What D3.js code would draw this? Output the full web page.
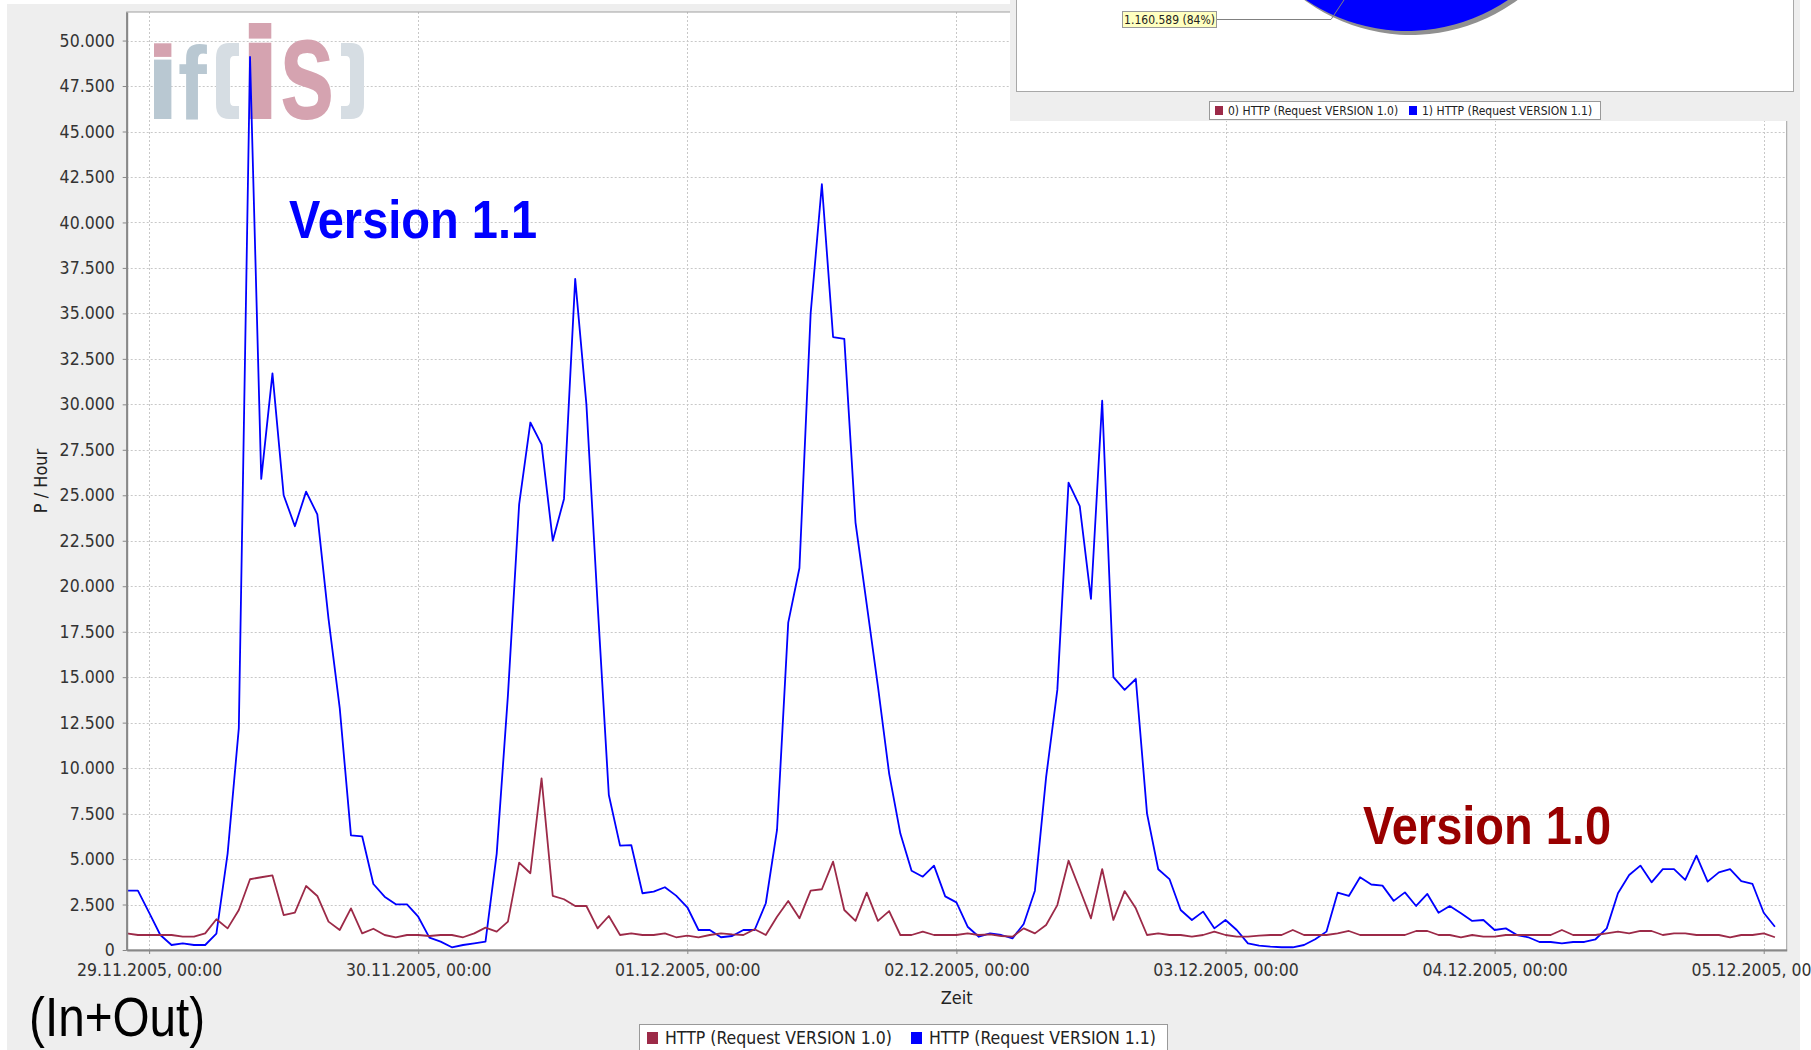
<!DOCTYPE html>
<html>
<head>
<meta charset="utf-8">
<script src="https://cdn.jsdelivr.net/npm/d3@7"></script>
<style>
  html, body { margin: 0; padding: 0; background: #ffffff; }
  svg text { font-family: "DejaVu Sans Condensed", "DejaVu Sans", sans-serif; }
</style>
</head>
<body>
<div id="chart"></div>
<script>
// Code
var svgWidth = 1811;
var svgHeight = 1050;

// hourly samples, first one at 28.11.2005 22:00
var seriesStart = Date.UTC(2005, 10, 28, 22, 0);

var httpV10 = [
  915, 825, 825, 825, 825, 730, 730, 915, 1690, 1190,
  2200, 3890, 4000, 4100, 1920, 2050, 3520, 2970, 1560, 1100,
  2290, 915, 1170, 825, 700, 825, 825, 770, 825, 825,
  700, 915, 1230, 1010, 1560, 4800, 4220, 9440, 2970, 2790,
  2420, 2420, 1190, 1870, 825, 915, 825, 825, 915, 700,
  790, 700, 825, 915, 860, 825, 1140, 825, 1830, 2690,
  1740, 3260, 3340, 4860, 2200, 1600, 3150, 1600, 2140, 825,
  825, 1010, 825, 825, 825, 915, 825, 860, 770, 730,
  1190, 915, 1375, 2470, 4910, 3340, 1740, 4450, 1650, 3240,
  2290, 825, 915, 825, 825, 730, 825, 1010, 825, 730,
  730, 790, 825, 825, 1100, 825, 825, 825, 915, 1045,
  825, 825, 825, 825, 825, 1045, 1045, 825, 825, 700,
  825, 730, 730, 825, 825, 825, 825, 825, 1100, 825,
  825, 825, 915, 1010, 915, 1045, 1045, 825, 915, 915,
  825, 825, 825, 700, 825, 825, 915, 700
];

var httpV11 = [
  3260, 3260, 2050, 825, 275, 365, 275, 275, 900, 5300,
  12200, 49100, 25900, 31700, 25000, 23300, 25200, 23950, 18200, 13300,
  6300, 6250, 3630, 2930, 2510, 2510, 1830, 680, 460, 150,
  275, 365, 460, 5300, 14000, 24500, 29000, 27800, 22500, 24800,
  36900, 30000, 19000, 8520, 5740, 5770, 3120, 3210, 3450, 2990,
  2350, 1100, 1100, 700, 770, 1100, 1100, 2570, 6600, 18000,
  21000, 35000, 42100, 33700, 33600, 23500, 19000, 14500, 9700, 6400,
  4360, 4030, 4640, 2950, 2620, 1280, 730, 915, 825, 640,
  1430, 3260, 9500, 14300, 25700, 24400, 19300, 30200, 15000, 14300,
  14900, 7500, 4440, 3900, 2200, 1650, 2110, 1190, 1650, 1100,
  365, 240, 180, 150, 150, 275, 590, 1010, 3150, 2970,
  4000, 3600, 3540, 2700, 3170, 2420, 3080, 2050, 2420, 2020,
  1600, 1650, 1100, 1190, 825, 700, 440, 440, 365, 440,
  440, 590, 1190, 3120, 4120, 4640, 3720, 4450, 4450, 3850,
  5190, 3760, 4270, 4450, 3790, 3630, 2050, 1280
];

var seriesNames = ["HTTP (Request VERSION 1.0)", "HTTP (Request VERSION 1.1)"];
var seriesColors = ["#9c2a48", "#0000ff"];
var dayTicks = ["2005-11-29", "2005-11-30", "2005-12-01", "2005-12-02",
                "2005-12-03", "2005-12-04", "2005-12-05"];
var yTickValues = [0, 2500, 5000, 7500, 10000, 12500, 15000, 17500, 20000, 22500,
                   25000, 27500, 30000, 32500, 35000, 37500, 40000, 42500, 45000,
                   47500, 50000];

// small pie chart pasted top right
var pieNames = ["0) HTTP (Request VERSION 1.0)", "1) HTTP (Request VERSION 1.1)"];
var pieValues = [221065, 1160589];
var pieLabel = "1.160.589 (84%)";

var plot = { left: 126.7, top: 12, right: 1786.7, bottom: 950 };

var svg = d3.select("#chart")
    .append("svg")
    .attr("width", svgWidth)
    .attr("height", svgHeight);

// panel background
svg.append("rect")
    .attr("x", 7).attr("y", 4)
    .attr("width", 1793).attr("height", svgHeight - 4)
    .attr("fill", "#eeeeee");

svg.append("rect")
    .attr("x", plot.left).attr("y", plot.top)
    .attr("width", plot.right - plot.left).attr("height", plot.bottom - plot.top)
    .attr("fill", "#ffffff");

var hour = 3600 * 1000;
var times = httpV10.map((d, i) => new Date(seriesStart + i * hour));

var xScale = d3.scaleUtc()
    .domain([new Date(seriesStart), new Date(seriesStart + 148.05 * hour)])
    .range([plot.left, plot.right]);

var yScale = d3.scaleLinear()
    .domain([0, 51570])
    .range([plot.bottom, plot.top]);

var de = d3.formatLocale({ decimal: ",", thousands: ".", grouping: [3], currency: ["", " €"] });
var yFormat = de.format(",d");
var dayFormat = d3.utcFormat("%d.%m.%Y, %H:%M");
var dayDates = dayTicks.map(d => new Date(d + "T00:00:00Z"));

// grid
var grid = svg.append("g").attr("stroke", "#c8c8c8").attr("stroke-dasharray", "2,2").attr("stroke-width", 1);
grid.selectAll(".hg")
    .data(yTickValues.filter(d => d > 0))
    .enter().append("line")
    .attr("x1", plot.left).attr("x2", plot.right)
    .attr("y1", d => Math.round(yScale(d)) + 0.5).attr("y2", d => Math.round(yScale(d)) + 0.5);
grid.selectAll(".vg")
    .data(dayDates)
    .enter().append("line")
    .attr("y1", plot.top).attr("y2", plot.bottom)
    .attr("x1", d => Math.round(xScale(d)) + 0.5).attr("x2", d => Math.round(xScale(d)) + 0.5);

// if(is) logo in the plot background
var pink = "#d5a3b0", slate = "#b9c8d2", pale = "#d6dde3";
var logo = svg.append("g");
logo.append("rect").attr("x", 154).attr("y", 43.3).attr("width", 17.4).attr("height", 13.6).attr("fill", pink);
logo.append("rect").attr("x", 154).attr("y", 59.6).attr("width", 17.4).attr("height", 59.4).attr("fill", slate);
logo.append("text")
    .attr("transform", "translate(178,119) scale(0.83,1)")
    .style("font-family", "'Liberation Sans', Arial, sans-serif")
    .style("font-weight", "bold").style("font-size", "104px")
    .attr("fill", slate).text("f");
logo.append("path")
    .attr("d", "M239,43 L229,43 Q216,43 216,58 L216,104 Q216,119 229,119 L239,119 L239,106 L234,106 Q230,106 230,101 L230,61 Q230,56 234,56 L239,56 Z")
    .attr("fill", pale);
logo.append("rect").attr("x", 248.8).attr("y", 23).attr("width", 22.5).attr("height", 15.6).attr("fill", pink);
logo.append("rect").attr("x", 248.8).attr("y", 42.7).attr("width", 22.5).attr("height", 76.3).attr("fill", pink);
logo.append("text")
    .attr("transform", "translate(279,119) scale(0.69,1)")
    .style("font-family", "'Liberation Sans', Arial, sans-serif")
    .style("font-weight", "bold").style("font-size", "146px")
    .attr("fill", pink).text("s");
logo.append("path")
    .attr("d", "M341,43 L351,43 Q364,43 364,58 L364,104 Q364,119 351,119 L341,119 L341,106 L346,106 Q350,106 350,101 L350,61 Q350,56 346,56 L341,56 Z")
    .attr("fill", pale);

// lines
svg.append("clipPath").attr("id", "plotClip")
    .append("rect")
    .attr("x", plot.left).attr("y", plot.top)
    .attr("width", plot.right - plot.left).attr("height", plot.bottom - plot.top);

var line = d3.line()
    .x((d, i) => xScale(times[i]))
    .y(d => yScale(d));

var lines = svg.append("g").attr("clip-path", "url(#plotClip)");
lines.append("path").datum(httpV11)
    .attr("d", line).attr("fill", "none")
    .attr("stroke", seriesColors[1]).attr("stroke-width", 1.8).attr("stroke-linejoin", "round");
lines.append("path").datum(httpV10)
    .attr("d", line).attr("fill", "none")
    .attr("stroke", seriesColors[0]).attr("stroke-width", 1.8).attr("stroke-linejoin", "round");

// plot outline + axes
svg.append("rect")
    .attr("x", plot.left).attr("y", plot.top)
    .attr("width", plot.right - plot.left).attr("height", plot.bottom - plot.top)
    .attr("fill", "none").attr("stroke", "#a0a0a0");

var leftAxis = d3.axisLeft(yScale).tickValues(yTickValues).tickFormat(yFormat)
    .tickSizeInner(4).tickSizeOuter(0).tickPadding(8);
var yAxis = svg.append("g").attr("transform", `translate(${plot.left},0)`).call(leftAxis);

var bottomAxis = d3.axisBottom(xScale).tickValues(dayDates).tickFormat(dayFormat)
    .tickSizeInner(4).tickSizeOuter(0).tickPadding(10);
var xAxis = svg.append("g").attr("transform", `translate(0,${plot.bottom})`).call(bottomAxis);

[xAxis, yAxis].forEach(function(ax) {
    ax.select(".domain").attr("stroke", "#888888").attr("stroke-width", 2);
    ax.selectAll(".tick line").attr("stroke", "#888888");
    ax.selectAll(".tick text")
        .style("font-family", "'DejaVu Sans Condensed', 'DejaVu Sans', sans-serif")
        .style("font-size", "17.5px").attr("fill", "#333333");
});

svg.append("text")
    .attr("x", (plot.left + plot.right) / 2).attr("y", 1004)
    .attr("text-anchor", "middle")
    .style("font-size", "18px").attr("fill", "#222222")
    .text("Zeit");

svg.append("text")
    .attr("transform", `translate(47,${(plot.top + plot.bottom) / 2}) rotate(-90)`)
    .attr("text-anchor", "middle")
    .style("font-size", "18px").attr("fill", "#222222")
    .text("P / Hour");

// bottom legend
var legend = svg.append("g");
legend.append("rect")
    .attr("x", 639.5).attr("y", 1024.5).attr("width", 528).attr("height", 30)
    .attr("fill", "#ffffff").attr("stroke", "#999999");
var legendX = [647, 911];
seriesNames.forEach(function(name, i) {
    legend.append("rect")
        .attr("x", legendX[i]).attr("y", 1032).attr("width", 11).attr("height", 12)
        .attr("fill", seriesColors[i]);
    legend.append("text")
        .attr("x", legendX[i] + 18).attr("y", 1044)
        .style("font-size", "17.5px").attr("fill", "#222222")
        .text(name);
});

// annotations
svg.append("text")
    .attr("transform", "translate(289,238) scale(0.87,1)")
    .style("font-family", "'Liberation Sans', Arial, sans-serif")
    .style("font-weight", "bold").style("font-size", "54px")
    .attr("fill", "#0000ff").text("Version 1.1");

svg.append("text")
    .attr("transform", "translate(1363,844) scale(0.87,1)")
    .style("font-family", "'Liberation Sans', Arial, sans-serif")
    .style("font-weight", "bold").style("font-size", "54px")
    .attr("fill", "#990000").text("Version 1.0");

svg.append("text")
    .attr("transform", "translate(29,1036) scale(0.867,1)")
    .style("font-family", "'Liberation Sans', Arial, sans-serif")
    .style("font-size", "55px")
    .attr("fill", "#000000").text("(In+Out)");

// pie chart inset (top right)
var inset = svg.append("g");
inset.append("rect")
    .attr("x", 1010).attr("y", 0).attr("width", 790).attr("height", 121)
    .attr("fill", "#eeeeee");
inset.append("rect")
    .attr("x", 1016.5).attr("y", -1).attr("width", 777).attr("height", 92.5)
    .attr("fill", "#ffffff").attr("stroke", "#a8a8a8");

svg.append("clipPath").attr("id", "pieClip")
    .append("rect").attr("x", 1017).attr("y", 0).attr("width", 776).attr("height", 91);

var pieG = inset.append("g").attr("clip-path", "url(#pieClip)");
var pieCenter = [1407, -149], pieRadius = 180;
var arcs = d3.pie().sort(null)(pieValues);
var arc = d3.arc().innerRadius(0).outerRadius(pieRadius);
pieG.append("g")
    .attr("transform", `translate(${pieCenter[0] + 4},${pieCenter[1] + 4})`)
    .selectAll("path").data(arcs).enter().append("path")
    .attr("d", arc).attr("fill", "#909090");
pieG.append("g")
    .attr("transform", `translate(${pieCenter[0]},${pieCenter[1]})`)
    .selectAll("path").data(arcs).enter().append("path")
    .attr("d", arc).attr("fill", (d, i) => seriesColors[i]);
pieG.append("polyline")
    .attr("points", "1217,19.5 1331,19.5 1344,0")
    .attr("fill", "none").attr("stroke", "#808080");

inset.append("rect")
    .attr("x", 1122.5).attr("y", 11.5).attr("width", 94).attr("height", 16)
    .attr("fill", "#ffffc0").attr("stroke", "#999999");
inset.append("text")
    .attr("x", 1169.5).attr("y", 24)
    .attr("text-anchor", "middle")
    .style("font-size", "12px").attr("fill", "#222222")
    .text(pieLabel);

inset.append("rect")
    .attr("x", 1209.5).attr("y", 101.5).attr("width", 391).attr("height", 18)
    .attr("fill", "#ffffff").attr("stroke", "#999999");
var insetX = [1215, 1409];
pieNames.forEach(function(name, i) {
    inset.append("rect")
        .attr("x", insetX[i]).attr("y", 106).attr("width", 8).attr("height", 9)
        .attr("fill", seriesColors[i]);
    inset.append("text")
        .attr("x", insetX[i] + 13).attr("y", 115)
        .style("font-size", "12px").attr("fill", "#222222")
        .text(name);
});
</script>
</body>
</html>
